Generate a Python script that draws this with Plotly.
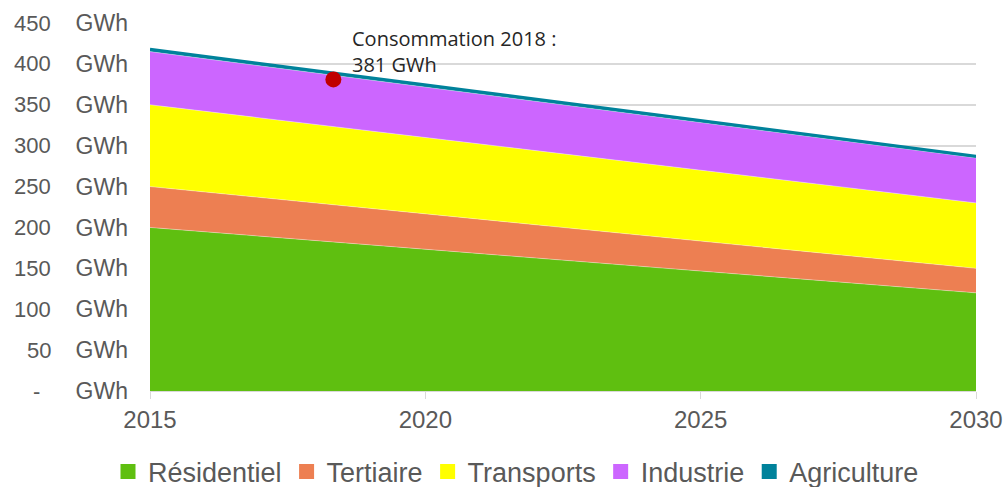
import plotly.graph_objects as go

# Consommation d'énergie par secteur (GWh), trajectoire 2015 -> 2030
years = [2015, 2030]
residentiel = [200, 120]
tertiaire = [50, 30]
transports = [100, 80]
industrie = [65, 55]
agriculture = [3, 2]

sectors = ["Résidentiel", "Tertiaire", "Transports", "Industrie", "Agriculture"]
values = [residentiel, tertiaire, transports, industrie, agriculture]
colors = ["#5FBF10", "#ED7F52", "#FFFF00", "#CC66FF", "#00829B"]

point_year = [2018.33]
point_value = [381]
point_label = "Consommation 2018 :<br>381 GWh"

y_ticks = [0, 50, 100, 150, 200, 250, 300, 350, 400, 450]

GRAY = "#595959"
FONT = "Liberation Sans, Arial, sans-serif"
W, H = 1004, 487
L, T, PW, PH = 150, 23, 826, 368

fig = go.Figure()
for name, vals, col in zip(sectors, values, colors):
    is_agri = name == "Agriculture"
    fig.add_trace(go.Scatter(
        x=years, y=vals, name=name, mode="lines", stackgroup="conso",
        fillcolor=col,
        line=dict(color=col if is_agri else "rgba(255,255,255,0.6)",
                  width=3 if is_agri else 0.6),
        showlegend=False, hoverinfo="skip",
    ))
# legend swatches (square markers)
for name, col in zip(sectors, colors):
    fig.add_trace(go.Scatter(
        x=[None], y=[None], mode="markers", name=name,
        marker=dict(symbol="square", size=15, color=col),
    ))

fig.add_trace(go.Scatter(
    x=point_year, y=point_value, mode="markers",
    marker=dict(size=16, color="#C00000"), showlegend=False,
    hoverinfo="skip",
))
fig.add_annotation(
    x=point_year[0], y=point_value[0], text=point_label, showarrow=False,
    xanchor="left", yanchor="middle", xshift=17, yshift=28, align="left",
    font=dict(family="Open Sans, sans-serif", size=20, color="#262626"),
)

# numeric part of the y tick labels (accounting style)
for v in y_ticks:
    fig.add_annotation(
        xref="paper", yref="y",
        x=(37 - L) / PW if v == 0 else (53 - L) / PW,
        y=v, text="-" if v == 0 else str(v), showarrow=False,
        xanchor="center" if v == 0 else "right",
        font=dict(family=FONT, size=22, color=GRAY),
    )

fig.update_layout(
    width=W, height=H,
    margin=dict(l=L, r=W - L - PW, t=T, b=H - T - PH, autoexpand=False),
    paper_bgcolor="white", plot_bgcolor="white",
    font=dict(family=FONT, size=22, color=GRAY),
    legend=dict(
        orientation="h", x=(516 - L) / PW, xanchor="center",
        y=(PH + T - 472) / PH, yanchor="middle",
        font=dict(size=27, color=GRAY),
        traceorder="normal", itemwidth=30,
    ),
    xaxis=dict(
        range=[2015, 2030], tickvals=[2015, 2020, 2025, 2030],
        showgrid=False, showline=True, linecolor="#d9d9d9", linewidth=1,
        ticks="outside", ticklen=7, tickcolor="#d9d9d9",
        tickfont=dict(size=24, color=GRAY), zeroline=False,
    ),
    yaxis=dict(
        range=[0, 450], tickvals=y_ticks, ticktext=["GWh"] * len(y_ticks),
        showgrid=True, gridcolor="#d9d9d9", gridwidth=1.5, zeroline=False,
        ticks="", ticklabelstandoff=21,
        tickfont=dict(size=23, color=GRAY),
    ),
)

# the page body's default 8px margin would shift the figure off the window
fig.write_html(
    "out.html",
    config={"displayModeBar": False},
    post_script="document.body.style.margin = '0'; document.body.style.overflow = 'hidden';",
)
